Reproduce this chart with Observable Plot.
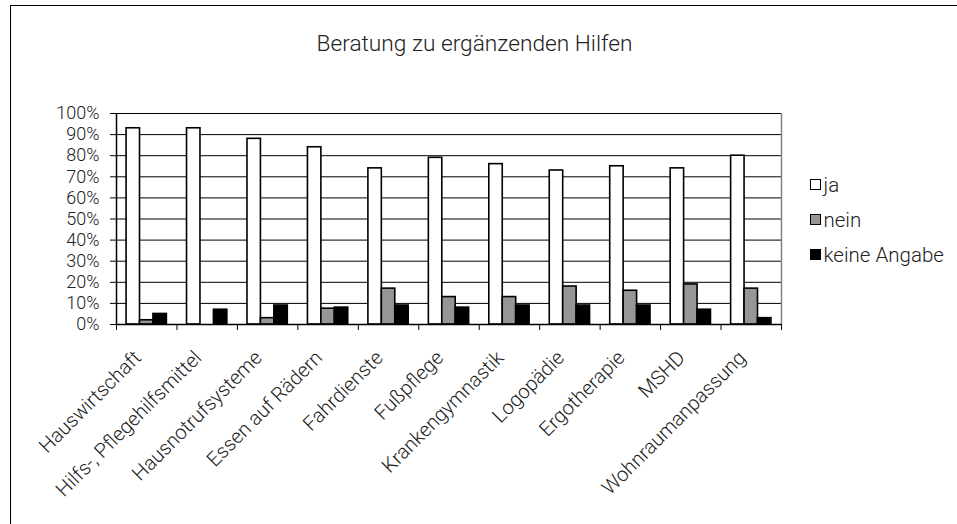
<!DOCTYPE html>
<html>
<head>
<meta charset="utf-8">
<script src="https://cdn.jsdelivr.net/npm/d3@7"></script>
<script src="https://cdn.jsdelivr.net/npm/@observablehq/plot@0.6"></script>
<style>
  html, body { margin: 0; padding: 0; background: #fff; }
  #wrap { position: relative; width: 957px; height: 524px; overflow: hidden;
          font-family: Roboto, "Open Sans", sans-serif; font-weight: 300; color: #222; }
  #border { position: absolute; left: 10px; top: 5px; width: 980px; height: 560px;
            border-left: 1px solid #000; border-top: 1px solid #000; }
  #chart { position: absolute; left: 0; top: 0; }
  #title { position: absolute; left: 10px; width: 929px; top: 33px; text-align: center;
           font-size: 22.7px; line-height: 1; }
  #legend { position: absolute; left: 810px; top: 167px; font-size: 20.5px; }
  .item { display: flex; align-items: center; height: 35px; }
  .sw { width: 8.5px; height: 8.5px; border: 1.6px solid #000; margin-right: 3px; }
</style>
</head>
<body>
<div id="wrap">
  <div id="border"></div>
  <div id="chart"></div>
  <div id="title"></div>
  <div id="legend"></div>
</div>
<script>
const title = "Beratung zu ergänzenden Hilfen";
const categories = ["Hauswirtschaft", "Hilfs-, Pflegehilfsmittel", "Hausnotrufsysteme", "Essen auf Rädern",
  "Fahrdienste", "Fußpflege", "Krankengymnastik", "Logopädie", "Ergotherapie", "MSHD", "Wohnraumanpassung"];
const series = ["ja", "nein", "keine Angabe"];
const ja =          [93, 93, 88, 84, 74, 79, 76, 73, 75, 74, 80];
const nein =        [2, 0, 3, 7.5, 17, 13, 13, 18, 16, 19, 17];
const keineAngabe = [5, 7, 9, 8, 9, 8, 9, 9, 9, 7, 3];
const yTicks = [0, 10, 20, 30, 40, 50, 60, 70, 80, 90, 100];
const colors = ["#ffffff", "#969696", "#000000"];

const values = [ja, nein, keineAngabe];
const rows = categories.flatMap((c, i) =>
  series.map((s, k) => ({category: c, index: i, series: s, value: values[k][i]})));
const sub = d3.scaleBand(series, [0, 1]).paddingInner(0).paddingOuter(0.75);
const fillOf = d3.scaleOrdinal(series, colors);

const chart = Plot.plot({
  width: 957, height: 524,
  marginLeft: 116, marginRight: 176, marginTop: 113, marginBottom: 200,
  style: {fontFamily: "Roboto, 'Open Sans', sans-serif", fontSize: "18px", fontWeight: 300,
          color: "#222", background: "transparent", overflow: "visible"},
  x: {domain: [0, categories.length], axis: null, label: null},
  y: {domain: [0, 100], axis: null, label: null},
  marks: [
    Plot.gridY(yTicks, {stroke: "#000", strokeOpacity: 1, strokeWidth: 1}),
    Plot.rect(rows, {
      x1: d => d.index + sub(d.series),
      x2: d => d.index + sub(d.series) + sub.bandwidth(),
      y1: () => 0, y2: "value",
      fill: d => fillOf(d.series), stroke: "#000", strokeWidth: 1.6
    }),
    Plot.ruleX([categories.length], {stroke: "#808080", strokeWidth: 1.5}),
    Plot.ruleY([0], {stroke: "#000", strokeWidth: 1.5}),
    Plot.ruleX([0], {stroke: "#000", strokeWidth: 1.5}),
    Plot.axisY({ticks: yTicks, tickFormat: d => d + "%", tickSize: 6, tickPadding: 11, label: null,
                stroke: "#000", strokeOpacity: 1, fill: "#222", fontSize: 18}),
    Plot.axisX({ticks: d3.range(categories.length + 1), tickFormat: () => "", tickSize: 6, label: null,
                stroke: "#000", strokeOpacity: 1}),
    Plot.axisX({ticks: categories.map((c, i) => i + 0.5), tickFormat: v => categories[Math.floor(v)],
                tickSize: 0, tickPadding: 30, tickRotate: -45, dx: -9, label: null,
                fill: "#222", fontSize: 20})
  ]
});
document.getElementById("chart").append(chart);
document.getElementById("title").textContent = title;

const legend = d3.select("#legend");
series.forEach((s, k) => {
  const item = legend.append("div").attr("class", "item");
  item.append("div").attr("class", "sw").style("background", colors[k]);
  item.append("span").text(s);
});
</script>
</body>
</html>
